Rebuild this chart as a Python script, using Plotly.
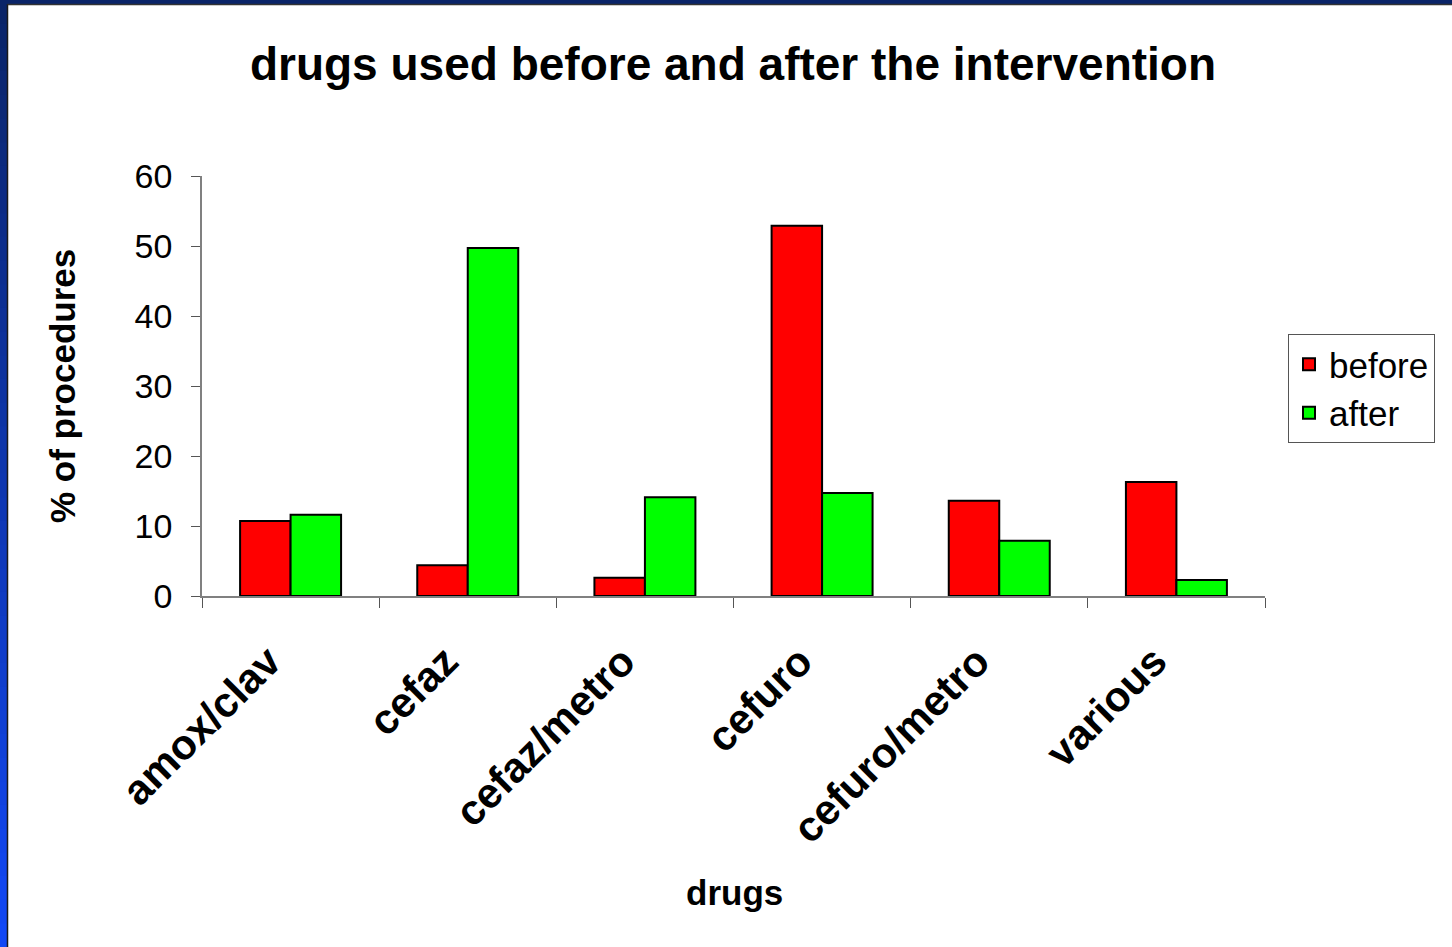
import plotly.graph_objects as go

# Chart data
drugs = ["amox/clav", "cefaz", "cefaz/metro", "cefuro", "cefuro/metro", "various"]
before = [10.7, 4.4, 2.6, 52.9, 13.6, 16.3]
after = [11.6, 49.7, 14.1, 14.7, 7.9, 2.3]
y_ticks = [0, 10, 20, 30, 40, 50, 60]

W, H = 1452, 947
L, R, T, B = 202, 1265, 176, 596  # plot area in pixels

FONT = "Arial, Liberation Sans, sans-serif"

fig = go.Figure()
fig.add_trace(go.Bar(
    x=drugs, y=before, name="before",
    marker=dict(color="#ff0000", line=dict(color="#000000", width=2)),
))
fig.add_trace(go.Bar(
    x=drugs, y=after, name="after",
    marker=dict(color="#00ff00", line=dict(color="#000000", width=2)),
))


def px_x(p):
    return (p - L) / (R - L)


def px_y(p):
    return (B - p) / (B - T)


shapes = []
# top navy band
shapes.append(dict(type="rect", xref="paper", yref="paper",
                   x0=px_x(0), x1=px_x(W), y0=px_y(4), y1=px_y(0),
                   fillcolor="#0a2468", line=dict(width=0), layer="above"))
# left band with a vertical gradient from navy to bright blue
n = 40
top_c = (10, 36, 104)
bot_c = (18, 72, 245)
for i in range(n):
    t = i / (n - 1)
    c = tuple(int(round(top_c[k] + (bot_c[k] - top_c[k]) * t)) for k in range(3))
    y0p = H * i / n
    y1p = H * (i + 1) / n + 1
    shapes.append(dict(type="rect", xref="paper", yref="paper",
                       x0=px_x(0), x1=px_x(7), y0=px_y(y1p), y1=px_y(y0p),
                       fillcolor="rgb(%d,%d,%d)" % c, line=dict(width=0), layer="above"))
# dark edge of the white panel
shapes.append(dict(type="line", xref="paper", yref="paper",
                   x0=px_x(7.5), x1=px_x(7.5), y0=px_y(H), y1=px_y(4),
                   line=dict(color="#1a1a1a", width=1.5), layer="above"))
shapes.append(dict(type="line", xref="paper", yref="paper",
                   x0=px_x(7.5), x1=px_x(W), y0=px_y(4.5), y1=px_y(4.5),
                   line=dict(color="#333333", width=1.5), layer="above"))

annotations = [
    # x axis title
    dict(text="<b>drugs</b>", xref="paper", yref="paper",
         x=px_x(734), y=px_y(892), xanchor="center", yanchor="middle",
         showarrow=False, font=dict(size=35, family=FONT, color="black")),
    # y axis title
    dict(text="<b>% of procedures</b>", xref="paper", yref="paper",
         x=px_x(62), y=px_y(386), xanchor="center", yanchor="middle",
         textangle=-90, showarrow=False,
         font=dict(size=35, family=FONT, color="black")),
]

fig.update_layout(
    width=W, height=H,
    margin=dict(l=L, r=W - R, t=T, b=H - B, pad=0),
    paper_bgcolor="white", plot_bgcolor="white",
    font=dict(family=FONT, color="black"),
    title=dict(text="<b>drugs used before and after the intervention</b>",
               x=733 / W, xanchor="center",
               y=1 - 64 / H, yanchor="middle",
               font=dict(size=46, family=FONT, color="black")),
    barmode="group", bargap=0.43, bargroupgap=0,
    showlegend=True,
    legend=dict(x=px_x(1288), y=px_y(334), xanchor="left", yanchor="top",
                bordercolor="#555555", borderwidth=1, bgcolor="white",
                font=dict(size=35, family=FONT, color="black"),
                itemsizing="constant", tracegroupgap=0),
    shapes=shapes,
    annotations=annotations,
)

fig.update_xaxes(
    type="category", tickangle=-45, tickson="boundaries",
    ticks="outside", ticklen=10, tickcolor="#555555", tickwidth=1,
    showline=True, linecolor="#808080", linewidth=1.5,
    showgrid=False, zeroline=False,
    tickfont=dict(size=42, family=FONT, color="black"),
    tickprefix="<b>", ticksuffix="</b>",
    ticklabelstandoff=22, ticklabelshift=-22,
)
fig.update_yaxes(
    range=[0, 60], tickvals=y_ticks, ticktext=[str(v) for v in y_ticks],
    ticks="outside", ticklen=9, tickcolor="#555555", tickwidth=1,
    showline=True, linecolor="#808080", linewidth=1.5,
    showgrid=False, zeroline=False,
    tickfont=dict(size=34, family=FONT, color="black"),
    ticklabelstandoff=12,
)

fig.write_html("out.html")
